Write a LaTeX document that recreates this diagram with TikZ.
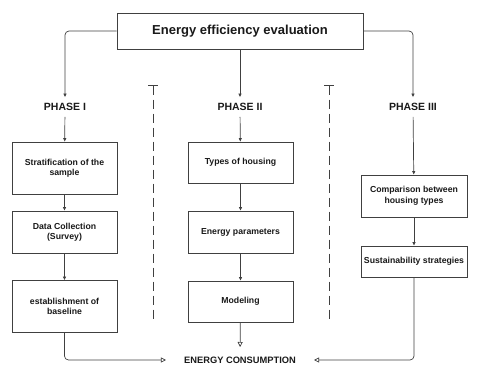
\documentclass[tikz,border=0pt]{standalone}
\usepackage{fontspec}
\setmainfont{Liberation Sans}
\usetikzlibrary{arrows.meta}

\begin{document}
\begin{tikzpicture}[x=1pt,y=-1pt,
  box/.style={draw=black!75, line width=0.9pt, fill=white, align=center, text=black!90,
    font=\bfseries\fontsize{8.7}{10.5}\selectfont, minimum width=105pt, inner sep=2pt},
  phase/.style={text=black!90, font=\bfseries\fontsize{10.5}{12}\selectfont, inner xsep=2pt, inner ysep=6pt},
  arr/.style={draw=black!75, line width=0.7pt, rounded corners=4pt, -{Triangle[length=3.5pt,width=3pt]}},
  res/.style={draw=black!75, line width=0.7pt, rounded corners=4pt, -{Triangle[open,length=5pt,width=5pt]}},
  sep/.style={draw=black!75, line width=0.8pt, dash pattern=on 9pt off 5pt, {Bar[width=10pt]}-}]
				\useasboundingbox (0,0) rectangle (480,380);
				\node[box,minimum width=246pt,minimum height=36pt,font=\bfseries\fontsize{13}{15}\selectfont] (top) at (240,31) {Energy efficiency evaluation};
				\node[phase] (ph1) at (65,107)  {PHASE I};
				\node[phase] (ph2) at (240,107) {PHASE II};
				\node[phase] (ph3) at (413,107) {PHASE III};
				\node[box,minimum height=52pt] (s1) at (64.5,168)   {Stratification of the\\sample};
				\node[box,minimum height=42pt] (s2) at (64.5,232)   {Data Collection\\(Survey)};
				\node[box,minimum height=52pt] (s3) at (64.5,306.5) {establishment of\\baseline};
				\node[box,minimum height=41pt] (t1) at (240.5,162.5) {Types of housing};
				\node[box,minimum height=42pt] (t2) at (240.5,232)   {Energy parameters};
				\node[box,minimum height=41pt] (t3) at (240.5,301.5) {Modeling};
				\node[box,minimum width=106pt,minimum height=42pt] (c1) at (414,196)   {Comparison between\\housing types};
				\node[box,minimum width=106pt,minimum height=31pt] (c2) at (414,261.5) {Sustainability strategies};
				\node[phase,font=\bfseries\fontsize{9.3}{11}\selectfont,inner xsep=18pt,inner ysep=9.5pt] (ec) at (240,360) {ENERGY CONSUMPTION};
				% phases
				\draw[arr] (top.west) -| (ph1);
				\draw[arr] (top) -- (ph2);
				\draw[arr] (top.east) -| (ph3);
				\draw[sep] (153,85) -- (153,323);
				\draw[sep] (329,85) -- (329,323);
				% columns
				\draw[arr] (ph1) -- (s1);
				\draw[arr] (s1) -- (s2);
				\draw[arr] (s2) -- (s3);
				\draw[arr] (ph2) -- (t1);
				\draw[arr] (t1) -- (t2);
				\draw[arr] (t2) -- (t3);
				\draw[arr] (ph3) -- (c1);
				\draw[arr] (c1) -- (c2);
				% result
				\draw[res] (s3) |- (ec);
				\draw[res] (t3) -- (ec);
				\draw[res] (c2) |- (ec);
			\end{tikzpicture}
\end{document}
